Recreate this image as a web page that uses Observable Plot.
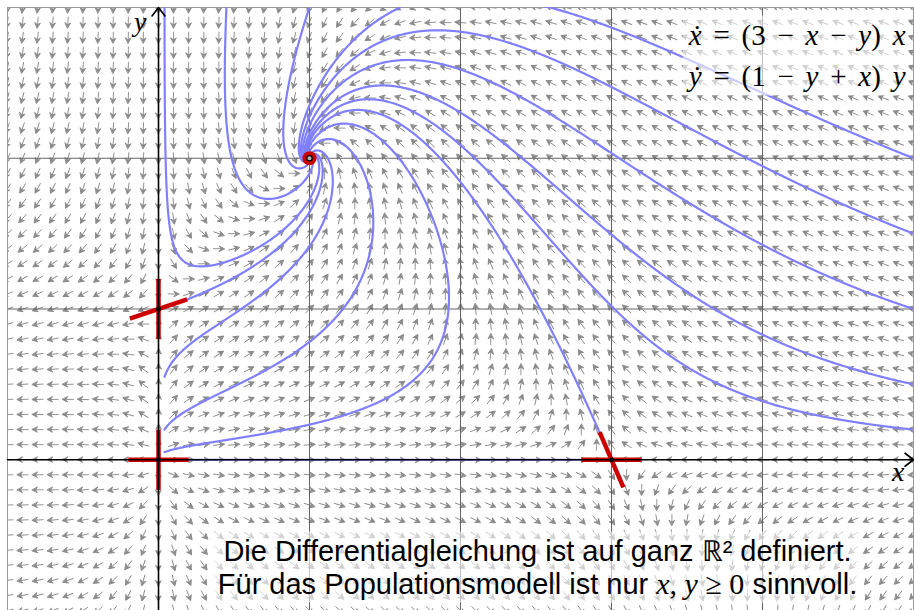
<!DOCTYPE html>
<html><head><meta charset="utf-8">
<script src="https://cdn.jsdelivr.net/npm/d3@7"></script>
<script src="https://cdn.jsdelivr.net/npm/@observablehq/plot@0.6"></script>
<style>body{margin:0;background:#fff} svg{display:block}</style>
</head><body><div id="chart"></div>
<script>
// ẋ = (a0 + a1·x + a2·y)·x ,  ẏ = (b0 + b1·x + b2·y)·y
const xCoef = [3, -1, -1];
const yCoef = [1, 1, -1];
const xDomain = [-1, 5];
const yDomain = [-1, 3];
const fieldStep = 0.1;
const gridX = [1, 2, 3, 4];
const gridY = [1, 2];
// equilibria
const eqX = [0, 0, 3];
const eqY = [0, 1, 0];
const sinkX = [1];
const sinkY = [2];
// eigen-directions drawn in red at the non-sink equilibria
const eigAtX = [0, 0, 0, 0, 3, 3];
const eigAtY = [0, 0, 1, 1, 0, 0];
const eigVX  = [1, 0, 0, 3, 1, 3];
const eigVY  = [0, 1, 1, 1, 0, -7];
const eigHalf = 0.2;
// streamline start points
const seedX = [0.04, 0.45, 1.0, 1.6, 0.04, 0.04, 0.04, 5, 5, 5, 5, 5, 0.19, 2.92];
const seedY = [3, 3, 3, 3, 0.05, 0.2, 0.55, 0.2, 0.5, 1.0, 1.5, 2.0, 1.063, 0.184];
const axisSeedX = [0.2];
const axisSeedY = [0];

const eqLines = ["ẋ = (3 − x − y) x", "ẏ = (1 − y + x) y"];
const captionLines = ["Die Differentialgleichung ist auf ganz ℝ² definiert.",
                      "Für das Populationsmodell ist nur x, y ≥ 0 sinnvoll."];
const captionMath = "x, y ≥ 0";

function field(x, y) {
  return [(xCoef[0] + xCoef[1]*x + xCoef[2]*y) * x,
          (yCoef[0] + yCoef[1]*x + yCoef[2]*y) * y];
}
const fieldData = [];
const nx = Math.round((xDomain[1]-xDomain[0])/fieldStep);
const ny = Math.round((yDomain[1]-yDomain[0])/fieldStep);
for (let i = 0; i <= nx; i++) for (let j = 0; j <= ny; j++) {
  const x = xDomain[0] + i*fieldStep, y = yDomain[0] + j*fieldStep;
  const [u, v] = field(x, y);
  if (Math.hypot(u, v) < 1e-9) continue;
  fieldData.push({x, y, angle: Math.atan2(u, v) * 180 / Math.PI});
}
function dir(x, y) { const [u, v] = field(x, y); const s = Math.hypot(u, v); return s < 1e-12 ? [0, 0] : [u/s, v/s]; }
function trace(x0, y0, stopX, stopY, stopR, id) {
  const pts = [{x: x0, y: y0, id}];
  let x = x0, y = y0; const h = 0.006;
  for (let i = 0; i < 6000; i++) {
    const k1 = dir(x, y);
    const k2 = dir(x + h/2*k1[0], y + h/2*k1[1]);
    const k3 = dir(x + h/2*k2[0], y + h/2*k2[1]);
    const k4 = dir(x + h*k3[0], y + h*k3[1]);
    x += h/6*(k1[0] + 2*k2[0] + 2*k3[0] + k4[0]);
    y += h/6*(k1[1] + 2*k2[1] + 2*k3[1] + k4[1]);
    pts.push({x, y, id});
    if (x < xDomain[0]-0.05 || x > xDomain[1]+0.05 || y < yDomain[0]-0.05 || y > yDomain[1]+0.05) break;
    if (Math.hypot(x - stopX, y - stopY) < stopR) break;
  }
  return pts;
}
const streamData = [];
seedX.forEach((sx, i) => streamData.push(...trace(sx, seedY[i], sinkX[0], sinkY[0], 0.03, i)));
axisSeedX.forEach((sx, i) => streamData.push(...trace(sx, axisSeedY[i], eqX[2], eqY[2], eigHalf, 100 + i)));

const eigData = eigAtX.map((ax, i) => {
  const n = Math.hypot(eigVX[i], eigVY[i]);
  const ux = eigVX[i]/n*eigHalf, uy = eigVY[i]/n*eigHalf;
  return {x1: ax - ux, y1: eigAtY[i] - uy, x2: ax + ux, y2: eigAtY[i] + uy};
});
const axesData = [
  {x1: xDomain[0], y1: 0, x2: xDomain[1], y2: 0},
  {x1: 0, y1: yDomain[0], x2: 0, y2: yDomain[1]}
];

const stealth = {
  draw(context, l, r) {
    const h = 5.2, w = 2.7;
    context.moveTo(0, 0);
    context.lineTo(0, -l + h*0.6);
    context.moveTo(0, -l);
    context.lineTo(-w, -l + h);
    context.lineTo(0, -l + h*0.65);
    context.lineTo(w, -l + h);
    context.closePath();
  }
};

const svg = Plot.plot({
  width: 914, height: 610,
  marginLeft: 7, marginTop: 7, marginRight: 1, marginBottom: 0,
  x: {domain: xDomain, axis: null},
  y: {domain: yDomain, axis: null},
  style: {background: "white", overflow: "visible"},
  marks: [
    Plot.vector(fieldData, {x: "x", y: "y", rotate: "angle", length: 11, anchor: "middle",
      shape: stealth, stroke: "#8a8a8a", fill: "#8a8a8a", strokeWidth: 0.9, clip: true}),
    Plot.ruleX(gridX, {stroke: "#555", strokeWidth: 0.9}),
    Plot.ruleY(gridY, {stroke: "#555", strokeWidth: 0.9}),
    Plot.frame({stroke: "#999", strokeWidth: 1}),
    Plot.line(streamData, {x: "x", y: "y", z: "id", stroke: "#8080ff", strokeWidth: 2.2, clip: true}),
    Plot.link(eigData, {x1: "x1", y1: "y1", x2: "x2", y2: "y2", stroke: "#cc0000", strokeWidth: 4.5}),
    Plot.arrow(axesData, {x1: "x1", y1: "y1", x2: "x2", y2: "y2", stroke: "black", strokeWidth: 1.6, headLength: 10, headAngle: 75}),
    Plot.dot(eqX.map((x, i) => ({x, y: eqY[i]})), {x: "x", y: "y", r: 2.5, fill: "black"}),
    Plot.dot(sinkX.map((x, i) => ({x, y: sinkY[i]})), {x: "x", y: "y", r: 7, fill: "#cc0000"}),
    Plot.dot(sinkX.map((x, i) => ({x, y: sinkY[i]})), {x: "x", y: "y", r: 2.7, fill: "#bbb", stroke: "black", strokeWidth: 1.3}),
    Plot.text(["y"], {text: d => d, x: 0, frameAnchor: "top", dx: -12, dy: 23, textAnchor: "end", lineAnchor: "bottom",
      fontFamily: "Liberation Serif", fontStyle: "italic", fontSize: 28, fill: "black"}),
    Plot.text(["x"], {text: d => d, y: 0, frameAnchor: "right", dx: -9, dy: 21, textAnchor: "end", lineAnchor: "bottom",
      fontFamily: "Liberation Serif", fontStyle: "italic", fontSize: 28, fill: "black"}),
    Plot.text([eqLines[0]], {text: d => d, frameAnchor: "top-right", dx: -8, dy: 37, textAnchor: "end", lineAnchor: "bottom",
      fontFamily: "Liberation Serif", fontSize: 29, fill: "black"}),
    Plot.text([eqLines[1]], {text: d => d, frameAnchor: "top-right", dx: -8, dy: 78, textAnchor: "end", lineAnchor: "bottom",
      fontFamily: "Liberation Serif", fontSize: 29, fill: "black"}),
    Plot.text([captionLines[0]], {text: d => d, frameAnchor: "bottom", dx: 77, dy: -50, textAnchor: "middle", lineAnchor: "bottom",
      fontFamily: "Liberation Sans", fontSize: 29, fill: "black"}),
    Plot.text([captionLines[1]], {text: d => d, frameAnchor: "bottom", dx: 77, dy: -17, textAnchor: "middle", lineAnchor: "bottom",
      fontFamily: "Liberation Sans", fontSize: 29, fill: "black"})
  ]
});
document.getElementById("chart").appendChild(svg);

const NS = "http://www.w3.org/2000/svg";
function setRich(t, parts) {
  while (t.firstChild) t.removeChild(t.firstChild);
  for (const p of parts) {
    const ts = document.createElementNS(NS, "tspan");
    ts.textContent = p.s;
    if (p.italic) ts.setAttribute("font-style", "italic");
    if (p.family) ts.setAttribute("font-family", p.family);
    if (p.size) ts.setAttribute("font-size", p.size);
    t.appendChild(ts);
  }
}
function mathParts(s, family, size) {
  return s.split(/([xyẋẏ])/).filter(d => d.length).map(d => ({s: d, italic: /^[xyẋẏ]$/.test(d), family, size}));
}
const eqTexts = [], capTexts = [];
svg.querySelectorAll("text").forEach(t => {
  const s = t.textContent;
  if (eqLines.includes(s)) {
    setRich(t, mathParts(s));
    t.setAttribute("word-spacing", "4.5");
    eqTexts.push(t);
  } else if (captionLines.includes(s)) {
    const k = s.indexOf(captionMath);
    if (k >= 0) {
      setRich(t, [{s: s.slice(0, k)}, ...mathParts(captionMath, "Liberation Serif", 30), {s: s.slice(k + captionMath.length)}]);
    }
    capTexts.push(t);
  }
});
function addBox(texts, pad) {
  if (!texts.length) return;
  let x0 = Infinity, y0 = Infinity, x1 = -Infinity, y1 = -Infinity;
  texts.forEach(t => {
    const b = t.getBBox(); const m = t.getCTM(); const sm = svg.getScreenCTM();
    const rel = sm.inverse().multiply(m);
    const ax = rel.e + b.x, ay = rel.f + b.y;
    x0 = Math.min(x0, ax); y0 = Math.min(y0, ay); x1 = Math.max(x1, ax + b.width); y1 = Math.max(y1, ay + b.height);
  });
  const r = document.createElementNS(NS, "rect");
  r.setAttribute("x", x0 - pad); r.setAttribute("y", y0 - pad);
  r.setAttribute("width", x1 - x0 + 2*pad); r.setAttribute("height", y1 - y0 + 2*pad);
  r.setAttribute("fill", "white"); r.setAttribute("fill-opacity", "0.6");
  const g = texts[0].closest("g");
  g.parentNode.insertBefore(r, g);
}
addBox(eqTexts, 3);
addBox(capTexts, 3);
</script></body></html>
